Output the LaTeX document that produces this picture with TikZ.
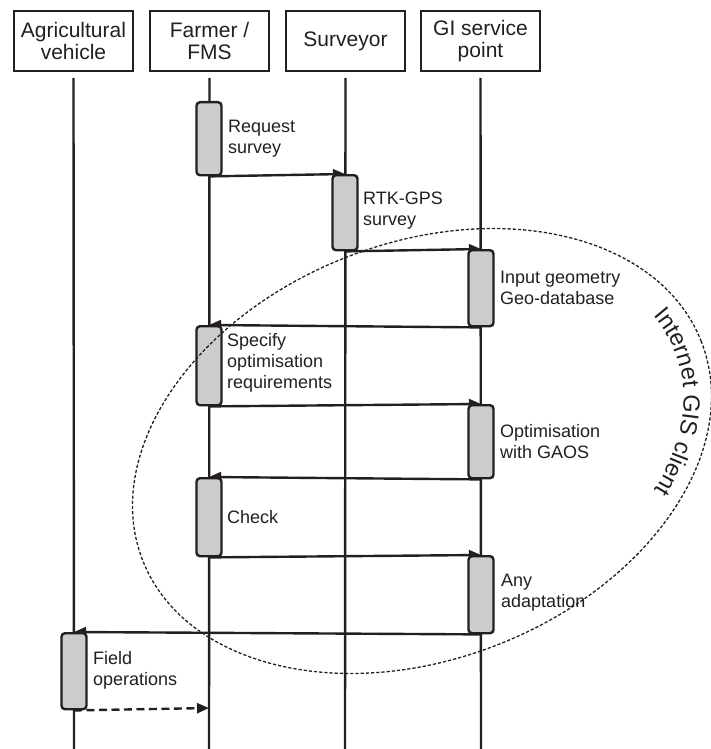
\documentclass[tikz,border=0pt]{standalone}
\usepackage{fontspec}
\setmainfont{Liberation Sans}
\usetikzlibrary{arrows.meta,decorations.text,backgrounds}
\definecolor{ink}{RGB}{35,31,32}
\definecolor{barfill}{RGB}{204,204,207}
\begin{document}
\begin{tikzpicture}[x=1pt,y=1pt,
  head/.style={draw=ink, line width=1.6pt, minimum width=119pt, minimum height=60pt,
    align=center, inner sep=0pt, font=\fontsize{21}{22}\selectfont, text=ink},
  lifeline/.style={draw=ink, line width=2.4pt},
  actbar/.style={draw=ink, fill=barfill, line width=2.4pt, rounded corners=3.5pt,
    minimum width=25pt, inner sep=0pt, anchor=north},
  msg/.style={draw=ink, line width=2.4pt, -{Triangle[length=12pt,width=10pt]}},
  replymsg/.style={msg, dash pattern=on 8pt off 4.5pt},
  lbl/.style={anchor=west, align=left, inner sep=0pt,
    font=\fontsize{18}{21}\selectfont, text=ink},
  gisring/.style={draw=ink, line width=1.3pt, dash pattern=on 3.2pt off 2pt},
]
\useasboundingbox (0,0) rectangle (711,-749);

% headers
\node[head] (hv) at (73.5,-41) {Agricultural\\vehicle};
\node[head] (hf) at (209.5,-41) {Farmer /\\FMS};
\node[head] (hs) at (345.5,-41) {Surveyor};
\node[head] (hg) at (480.5,-41) {GI service\\point};

% lifeline ends
\coordinate (vb) at (74,-749);
\coordinate (fb) at (209,-749);
\coordinate (sb) at (345,-749);
\coordinate (gb) at (481,-749);

% activation bars
\node[actbar, minimum height=73pt] (f1) at (209,-101) {};
\node[actbar, minimum height=75pt] (s1) at (345,-174) {};
\node[actbar, minimum height=76pt] (g1) at (481,-249) {};
\node[actbar, minimum height=79pt] (f2) at (209,-325) {};
\node[actbar, minimum height=73pt] (g2) at (481,-404) {};
\node[actbar, minimum height=78pt] (f3) at (209,-477) {};
\node[actbar, minimum height=77pt] (g3) at (481,-555) {};
\node[actbar, minimum height=76pt] (v1) at (74,-632) {};
\coordinate (fend) at (209,-708);

\begin{scope}[on background layer]
  \draw[lifeline] ([yshift=-6pt]hv.south) -- (vb);
  \draw[lifeline] ([yshift=-6pt]hf.south) -- (fb);
  \draw[lifeline] ([yshift=-6pt]hs.south) -- (sb);
  \draw[lifeline] ([yshift=-6pt]hg.south) -- (gb);
  \draw[msg] (f1.south) -- (s1.north);
  \draw[msg] (s1.south) -- (g1.north);
  \draw[msg] (g1.south) -- (f2.north);
  \draw[msg] (f2.south) -- (g2.north);
  \draw[msg] (g2.south) -- (f3.north);
  \draw[msg] (f3.south) -- (g3.north);
  \draw[msg] (g3.south) -- (v1.north);
  \draw[replymsg] (v1.south) -- (fend);
\end{scope}

% labels
\node[lbl] (l1) at (228,-139) {Request\\survey};
\node[lbl] (l2) at (363,-211) {RTK-GPS\\survey};
\node[lbl] (l3) at (500,-288) {Input geometry\\Geo-database};
\node[lbl] (l4) at (227,-363) {Specify\\optimisation\\requirements};
\node[lbl] (l5) at (500,-442) {Optimisation\\with GAOS};
\node[lbl] (l6) at (227,-517) {Check};
\node[lbl] (l7) at (501,-593) {Any\\adaptation};
\node[lbl] (l8) at (93,-670) {Field\\operations};

% Internet GIS client ring
\draw[gisring, rotate around={21.4:(422,-451)}] (422,-451) ellipse [x radius=300pt, y radius=208pt];
\path[shift={(422,-451)}, rotate=21.4, decorate,
  decoration={text along path, text align=center,
    text={|\fontsize{23.5}{23.5}\selectfont\color{ink}|Internet GIS client}}]
  (17:272pt and 181pt) arc[start angle=17, end angle=-45, x radius=272pt, y radius=181pt];
\end{tikzpicture}
\end{document}
